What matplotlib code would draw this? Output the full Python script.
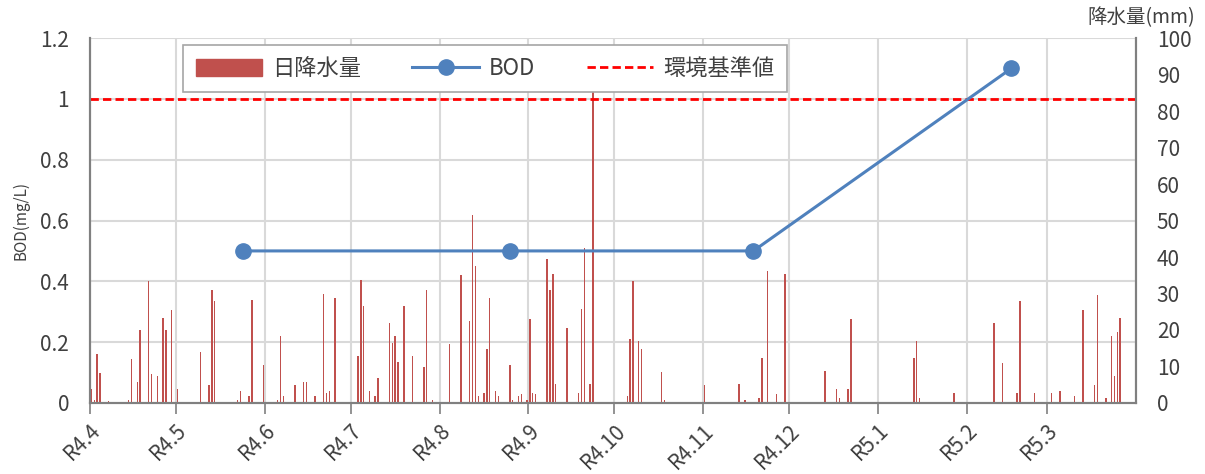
import numpy as np
import pandas as pd
import matplotlib
matplotlib.use("Agg")
import matplotlib.pyplot as plt
from matplotlib.patches import Patch
from matplotlib.lines import Line2D

plt.rcParams['font.family'] = ['Noto Sans CJK JP', 'DejaVu Sans']

start = pd.Timestamp('2022-04-01')

# 日降水量 (days after 2022-04-01, mm)
rain_day = [0, 1, 2, 3, 6, 13, 14, 16, 17, 20, 21, 23, 25, 26, 28, 30, 38, 41, 42, 43,
            51, 52, 55, 56, 60, 65, 66, 67, 69, 71, 72, 74, 75, 78, 79, 81, 82, 83, 85, 86,
            93, 94, 95, 97, 99, 100, 102, 104, 105, 106, 107, 109, 112, 116, 117, 119,
            125, 129, 132, 133, 134, 135, 136, 137, 138, 139, 141, 142, 146, 147, 149, 150,
            152, 153, 154, 155, 159, 160, 161, 162, 166, 170, 171, 172, 174, 175,
            187, 188, 189, 191, 192, 199, 200, 214, 226, 228, 233, 234, 236, 239, 242,
            256, 260, 261, 264, 265, 287, 288, 289, 294, 301, 315, 316, 318, 323, 324,
            329, 335, 338, 343, 346, 350, 351, 354, 356, 357, 358, 359]
rain_mm = [3.9, 0.7, 13.3, 8.3, 0.5, 0.7, 12.0, 5.8, 19.9, 33.3, 7.9, 7.4, 23.4, 19.9, 25.4, 3.9, 13.9, 4.8, 30.9, 27.9,
           0.7, 3.4, 1.8, 28.3, 10.3, 0.7, 18.3, 1.8, 0.4, 4.8, 0.4, 5.8, 5.8, 1.8, 0.4, 29.8, 2.8, 3.4, 28.9, 0.4,
           12.8, 33.8, 26.5, 3.4, 1.8, 6.9, 0.4, 21.8, 16.4, 18.3, 11.3, 26.5, 12.8, 9.9, 30.9, 0.7,
           16.3, 35.0, 22.4, 51.5, 37.4, 1.8, 0.4, 2.8, 14.9, 28.9, 3.4, 1.8, 10.3, 0.7, 1.8, 2.4,
           0.7, 22.9, 2.8, 2.4, 39.4, 30.9, 35.3, 5.3, 20.5, 2.8, 25.8, 42.4, 5.3, 85.2,
           1.9, 17.4, 33.3, 16.9, 14.9, 8.4, 0.7, 4.8, 5.3, 0.7, 1.3, 12.4, 36.3, 2.4, 35.3,
           8.9, 3.9, 1.3, 3.9, 22.9, 12.4, 16.9, 1.3, 0.4, 2.8, 21.8, 0.4, 10.9, 2.8, 27.9,
           2.8, 2.8, 3.4, 1.8, 25.4, 4.8, 29.5, 1.3, 18.3, 7.3, 19.4, 23.4]

# BOD (mg/L)
bod_day = [53, 146, 231, 321]
bod_val = [0.5, 0.5, 0.5, 1.1]

standard = 1.0
month_labels = ['R4.4', 'R4.5', 'R4.6', 'R4.7', 'R4.8', 'R4.9', 'R4.10', 'R4.11',
                'R4.12', 'R5.1', 'R5.2', 'R5.3']

rain_x = [start + pd.Timedelta(days=d) + pd.Timedelta(hours=12) for d in rain_day]
bod_x = [start + pd.Timedelta(days=d) + pd.Timedelta(hours=12) for d in bod_day]
months = pd.date_range('2022-04-01', periods=12, freq='MS')

fig = plt.figure(figsize=(12.05, 4.74), dpi=100)
ax = fig.add_axes([0.0747, 0.1498, 0.868, 0.770])
ax2 = ax.twinx()

bar_col = '#C0504D'
line_col = '#4F81BD'
grid_col = '#D9D9D9'
spine_col = '#808080'
text_col = '#404040'

ax2.bar(rain_x, rain_mm, width=0.5, color=bar_col, linewidth=0)
ax2.set_ylim(0, 100)
ax2.set_yticks(range(0, 101, 10))

ax.set_zorder(ax2.get_zorder() + 1)
ax.patch.set_visible(False)
ax.axhline(standard, color='#FF0000', linestyle=(0, (3, 1.5)), linewidth=2)
ax.plot(bod_x, bod_val, color=line_col, linewidth=2.2, marker='o', markersize=11)

ax.set_ylim(0, 1.2)
ax.set_yticks([0, 0.2, 0.4, 0.6, 0.8, 1.0, 1.2])
ax.set_yticklabels(['0', '0.2', '0.4', '0.6', '0.8', '1', '1.2'])
ax.set_xlim(pd.Timestamp('2022-04-01'), pd.Timestamp('2023-04-01'))
ax.set_xticks(months)
ax.set_xticklabels(month_labels, rotation=45, ha='right', rotation_mode='anchor')

# grid drawn on the rain axes so it stays behind the bars
ax2.set_xlim(ax.get_xlim())
for m in list(months) + [pd.Timestamp('2023-04-01')]:
    ax2.axvline(m, color=grid_col, linewidth=1.5, zorder=0)
for yv in [0.2, 0.4, 0.6, 0.8, 1.0, 1.2]:
    ax2.axhline(yv / 1.2 * 100, color=grid_col, linewidth=1.5, zorder=0)

for a in (ax, ax2):
    a.spines['top'].set_visible(False)
    for s in ('left', 'right', 'bottom'):
        a.spines[s].set_color(spine_col)
        a.spines[s].set_linewidth(1.5)
    a.tick_params(axis='y', length=0, labelsize=15, colors=text_col, pad=15)
ax.tick_params(axis='x', length=8, width=1.2, color=spine_col, labelsize=15,
               labelcolor=text_col, pad=4, direction='out')
ax2.tick_params(axis='x', length=0)

ax.set_ylabel('BOD(mg/L)', fontsize=11, color=text_col, labelpad=8)
fig.text(0.992, 0.962, '降水量(mm)', fontsize=14, color=text_col, ha='right', va='center')

handles = [Patch(color=bar_col),
           Line2D([], [], color=line_col, linewidth=2.2, marker='o', markersize=11),
           Line2D([], [], color='#FF0000', linestyle=(0, (3, 1.5)), linewidth=2)]
leg = ax.legend(handles, ['日降水量', 'BOD', '環境基準値'], ncol=3,
                loc='upper left', bbox_to_anchor=(0.083, 1.0), fontsize=16,
                frameon=True, fancybox=False, edgecolor='#A6A6A6', framealpha=1,
                handlelength=3.0, handleheight=0.8, columnspacing=2.3,
                borderpad=0.55, handletextpad=0.45, borderaxespad=0.3)
leg.get_frame().set_linewidth(1.2)
for t in leg.get_texts():
    t.set_color(text_col)

fig.savefig('out.png', dpi=100)
